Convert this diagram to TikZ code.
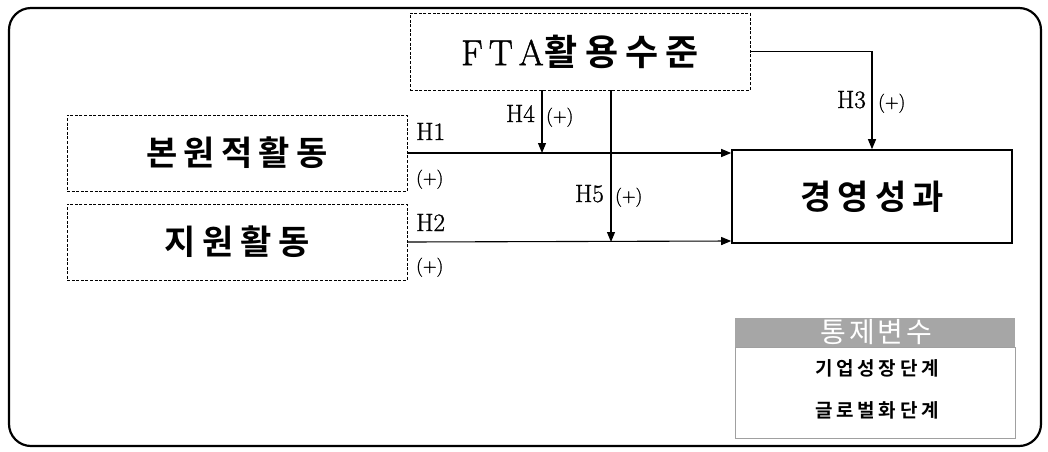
\documentclass[tikz,border=0pt]{standalone}
\usepackage{fontspec}
\newfontfamily\kr{Noto Sans CJK KR}[BoldFont={Noto Sans CJK KR Bold}]
\newfontfamily\lmheavy{Latin Modern Roman}[FakeBold=1.2]
\usetikzlibrary{arrows.meta}
\definecolor{hdrgray}{HTML}{A6A6A6}
\definecolor{framegray}{HTML}{A0A0A0}
\tikzset{
  dbox/.style={draw, line width=0.9pt, dash pattern=on 3pt off 1.6pt, inner sep=0pt},
  sbox/.style={draw, line width=1.6pt, inner sep=0pt},
  arr/.style={line width=1.1pt, -{Triangle[length=10pt,width=8pt]}},
  hlab/.style={inner sep=0pt, font=\lmheavy\fontsize{25}{27}\selectfont},
  plab/.style={inner sep=0pt, font=\lmheavy\fontsize{19}{22}\selectfont},
}
\begin{document}
\begin{tikzpicture}[x=1pt, y=-1pt]
\useasboundingbox (0,0) rectangle (1048,451);
% outer frame
\draw[line width=2.2pt, rounded corners=22pt] (9,8) rectangle (1041,446);

% variables
\node[dbox, minimum width=340pt, minimum height=77pt] (fta) at (580,51.5)
  {\lmheavy\fontsize{36}{38}\selectfont F\hspace{6pt}T\hspace{6pt}A\hspace{1pt}{\kr\bfseries\addfontfeatures{LetterSpace=20}활용수준}};
\node[dbox, minimum width=340pt, minimum height=76pt] (b1) at (237,153)
  {\kr\bfseries\fontsize{34}{38}\selectfont\addfontfeatures{LetterSpace=18}본원적활동};
\node[dbox, minimum width=340pt, minimum height=76pt] (b2) at (237,242)
  {\kr\bfseries\fontsize{34}{38}\selectfont\addfontfeatures{LetterSpace=20}지원활동};
\node[sbox, minimum width=280pt, minimum height=93pt] (perf) at (872,196.5)
  {\kr\bfseries\fontsize{34}{38}\selectfont\addfontfeatures{LetterSpace=18}경영성과};

% control variables table
\node[fill=hdrgray, minimum width=280pt, minimum height=29pt, inner sep=0pt, text=white] (ctrl) at (875,332.5)
  {\kr\fontsize{28}{30}\selectfont\addfontfeatures{LetterSpace=10}\hspace{3pt}통제변수};
\node[draw=framegray, line width=0.8pt, minimum width=280pt, minimum height=91pt, inner sep=0pt, anchor=north] (ctrlb) at (ctrl.south) {};
\node[inner sep=0pt] (c1) at (877,368) {\kr\bfseries\fontsize{19}{22}\selectfont\addfontfeatures{LetterSpace=20}기업성장단계};
\node[inner sep=0pt] (c2) at (877,410) {\kr\bfseries\fontsize{19}{22}\selectfont\addfontfeatures{LetterSpace=20}글로벌화단계};

% paths
\coordinate (m4) at (542,153);
\coordinate (m5) at (611,242);
\draw[arr] (b1.east) -- (b1.east -| perf.west);
\draw[arr] (b2.east) -- (perf.west |- 0,241);
\draw[arr] (fta.south -| m4) -- (m4);
\draw[arr] (fta.south -| m5) -- (m5);
\draw[arr] (fta.east) -| (perf.north);

% hypothesis labels
\node[hlab, anchor=base west] (lh1) at (416,140) {H1};
\node[plab, anchor=base west] (lp1) at (416,184) {(+)};
\node[hlab, anchor=base west] (lh2) at (416,231) {H2};
\node[plab, anchor=base west] (lp2) at (416,272) {(+)};
\node[hlab, anchor=base east] (lh4) at (535,122) {H4};
\node[plab, anchor=base west] (lp4) at (546,122) {(+)};
\node[hlab, anchor=base east] (lh5) at (604,202) {H5};
\node[plab, anchor=base west] (lp5) at (615,202) {(+)};
\node[hlab, anchor=base east] (lh3) at (866,108) {H3};
\node[plab, anchor=base west] (lp3) at (878,108) {(+)};
\end{tikzpicture}
\end{document}
